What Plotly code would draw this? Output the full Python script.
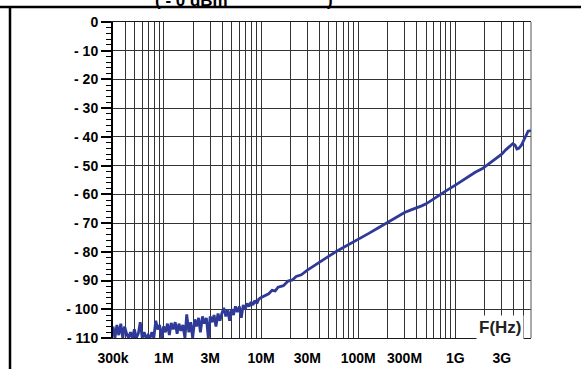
import plotly.graph_objects as go

# Swept response, low band: noise floor region (frequency in MHz, level in dBm)
noise_f_mhz = [
    0.300, 0.314, 0.329, 0.344, 0.361, 0.378, 0.395, 0.414, 0.434, 0.454,
    0.475, 0.498, 0.521, 0.546, 0.572, 0.599, 0.627, 0.656, 0.687, 0.720,
    0.754, 0.789, 0.826, 0.865, 0.906, 0.949, 0.994, 1.04, 1.09, 1.14,
    1.19, 1.25, 1.31, 1.37, 1.43, 1.50, 1.57, 1.65, 1.72, 1.81,
    1.89, 1.98, 2.08, 2.17, 2.28, 2.38, 2.50, 2.61, 2.74, 2.87,
    3.00, 3.14, 3.29, 3.44, 3.61, 3.78, 3.95, 4.14, 4.34, 4.54,
    4.75, 4.98, 5.21, 5.46, 5.72, 5.99, 6.27, 6.56, 6.87, 7.20,
    7.54, 7.89, 8.26, 8.65, 9.06, 9.49, 9.94,
]
noise_db = [
    -106, -110, -105.5, -109, -105, -110, -106, -108.5, -110, -108,
    -110, -107, -110, -108.5, -104.5, -110, -108, -110, -109, -110,
    -108, -110, -104, -107, -105.5, -110, -106, -108, -105, -109,
    -104.8, -107, -104.5, -108.5, -105, -107.5, -105.5, -110, -101.8, -108,
    -104.5, -110, -103.5, -106, -103, -108, -102.5, -105, -103, -110,
    -102.5, -104.5, -102, -106, -101.5, -104, -101.5, -99.5, -102.5, -100,
    -104, -100, -102, -99, -101, -99, -103, -98.5, -100, -98,
    -99, -97.5, -98.5, -97, -98, -96.5, -96,
]

# Swept response, upper band (frequency in MHz, level in dBm)
sweep_f_mhz = [
    11, 12, 13, 14, 15, 17, 19, 21, 23, 26,
    30, 35, 40, 50, 60, 70, 80, 100, 130, 160,
    200, 250, 300, 350, 400, 450, 500, 600, 800, 1000,
    1300, 1600, 1900, 2100, 2300, 2500, 2700, 3000, 3300, 3600,
    3900, 4100, 4300, 4500, 4800, 5000, 5300, 5600, 6000,
]
sweep_db = [
    -95.2, -94.6, -93.4, -93.6, -92.3, -91.8, -90.2, -89.8, -88.6, -88.0,
    -86.4, -85.0, -83.8, -81.5, -79.8, -78.6, -77.5, -75.8, -73.5, -71.7,
    -69.8, -67.8, -66.3, -65.4, -64.8, -64.0, -63.3, -61.5, -58.8, -56.8,
    -54.3, -52.3, -51.0, -49.9, -49.2, -48.2, -47.2, -46.0, -44.5, -43.3,
    -42.4, -42.8, -44.2, -44.0, -42.8, -41.5, -39.5, -38.0, -37.8,
]

x_tick_vals = [3e5, 1e6, 3e6, 1e7, 3e7, 1e8, 3e8, 1e9, 3e9]
x_tick_text = ["300k", "1M", "3M", "10M", "30M", "100M", "300M", "1G", "3G"]
y_tick_vals = [0, -10, -20, -30, -40, -50, -60, -70, -80, -90, -100, -110]
y_tick_text = ["0"] + ["- %d" % abs(v) for v in y_tick_vals[1:]]

f_lo, f_hi = 3e5, 6e9
minor_grid = [m * 10 ** e for e in range(5, 10) for m in range(1, 10)
              if f_lo <= m * 10 ** e <= f_hi]

freq_hz = [f * 1e6 for f in noise_f_mhz + sweep_f_mhz]
level_db = noise_db + sweep_db

W, H = 581, 369
L, R, T, B = 113, 50, 22, 31
pw, ph = W - L - R, H - T - B


def px(x):
    return (x - L) / pw


def py(y):
    return (H - B - y) / ph


family = "Liberation Sans, Arial, sans-serif"
font = dict(family=family, size=14, color="black", weight="bold")
grid_col = "#333333"

fig = go.Figure()
fig.add_trace(go.Scatter(
    x=freq_hz, y=level_db, mode="lines",
    line=dict(color="#2f3a98", width=2.8),
    showlegend=False, hoverinfo="skip",
))

fig.update_layout(
    width=W, height=H,
    margin=dict(l=L, r=R, t=T, b=B, pad=0, autoexpand=False),
    paper_bgcolor="white", plot_bgcolor="white",
    font=font,
    xaxis=dict(
        type="log", range=[5.4771, 9.7782], automargin=False,
        tickmode="array", tickvals=x_tick_vals, ticktext=x_tick_text,
        ticks="", showgrid=True, gridcolor=grid_col, gridwidth=1,
        minor=dict(tickmode="array", tickvals=minor_grid, showgrid=True,
                   gridcolor=grid_col, gridwidth=1, ticks=""),
        showline=True, linecolor="#1a1a1a", linewidth=1, mirror=True,
        tickfont=font, ticklabelstandoff=7, zeroline=False,
    ),
    yaxis=dict(
        range=[-110, 0], automargin=False,
        tickmode="array", tickvals=y_tick_vals, ticktext=y_tick_text,
        ticks="outside", ticklen=10, tickwidth=1.5, tickcolor="black",
        showgrid=True, gridcolor=grid_col, gridwidth=1,
        minor=dict(dtick=2, ticks="outside", ticklen=5, tickwidth=1,
                   tickcolor="black", showgrid=False),
        showline=True, linecolor="black", linewidth=2,
        tickfont=font, zeroline=False,
    ),
    shapes=[
        # right border of the plot area
        dict(type="line", xref="paper", yref="paper", x0=1, x1=1, y0=0, y1=1,
             line=dict(color="#555", width=1)),
        # outer frame: top rule and left rule
        dict(type="line", xref="paper", yref="paper",
             x0=px(0), x1=px(W), y0=py(7), y1=py(7),
             line=dict(color="black", width=2.5)),
        dict(type="line", xref="paper", yref="paper",
             x0=px(10), x1=px(10), y0=py(8), y1=py(H),
             line=dict(color="black", width=2.5)),
    ],
    annotations=[
        dict(text="F(Hz)", xref="paper", yref="paper",
             x=px(500), y=py(327), xanchor="center", yanchor="middle",
             showarrow=False, bgcolor="white", borderpad=2,
             font=dict(family=family, size=17, color="#222", weight="bold")),
        dict(text="( - 0 dBm", xref="paper", yref="paper",
             x=px(153), y=py(12), xanchor="left", yanchor="bottom",
             showarrow=False,
             font=dict(family=family, size=17, color="black", weight="bold")),
        dict(text=")", xref="paper", yref="paper",
             x=px(325), y=py(12), xanchor="left", yanchor="bottom",
             showarrow=False,
             font=dict(family=family, size=17, color="black", weight="bold")),
    ],
)

fig.write_html("out.html")
